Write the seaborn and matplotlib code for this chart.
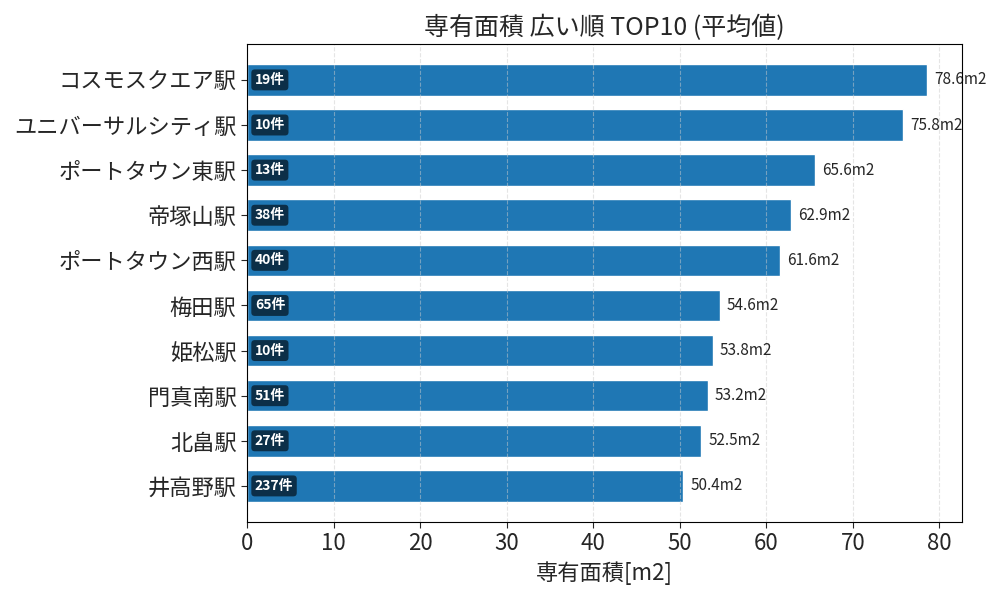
import matplotlib
matplotlib.use('Agg')
import matplotlib.pyplot as plt
import numpy as np
import pandas as pd
import seaborn as sns

stations = ['コスモスクエア駅', 'ユニバーサルシティ駅', 'ポートタウン東駅', '帝塚山駅',
            'ポートタウン西駅', '梅田駅', '姫松駅', '門真南駅', '北畠駅', '井高野駅']
avg_area = [78.6, 75.8, 65.6, 62.9, 61.6, 54.6, 53.8, 53.2, 52.5, 50.4]
counts = [19, 10, 13, 38, 40, 65, 10, 51, 27, 237]

sns.set_style('white')
plt.rcParams['font.family'] = ['Noto Sans CJK JP', 'DejaVu Sans']

df = pd.DataFrame({'station': stations, 'area': avg_area, 'n': counts})

fig, ax = plt.subplots(figsize=(10, 6), dpi=100)
sns.barplot(data=df, y='station', x='area', color='#1f77b4', saturation=1,
            width=0.7, ax=ax)

for i, (v, n) in enumerate(zip(avg_area, counts)):
    ax.text(v + 0.8, i, f'{v}m2', va='center', ha='left', fontsize=11)
    ax.text(0.9, i, f'{n}件', va='center', ha='left', fontsize=10,
            color='white', fontweight='bold',
            bbox=dict(boxstyle='round,pad=0.25', facecolor='black',
                      alpha=0.6, edgecolor='none'))

ax.set_xlim(0, 82.6)
ax.set_ylim(9.8, -0.8)
ax.set_title('専有面積 広い順 TOP10 (平均値)', fontsize=18)
ax.set_xlabel('専有面積[m2]', fontsize=16)
ax.set_ylabel('')
ax.tick_params(axis='y', labelsize=16, left=True, length=4)
ax.tick_params(axis='x', labelsize=16, bottom=True, length=4)
ax.set_axisbelow(False)
ax.grid(axis='x', linestyle='--', alpha=0.5)
for s in ax.spines.values():
    s.set_visible(True)
    s.set_color('black')
    s.set_linewidth(0.8)
    s.set_zorder(5)

fig.subplots_adjust(left=0.247, right=0.962, top=0.927, bottom=0.13)
fig.savefig('out.png', dpi=100)
